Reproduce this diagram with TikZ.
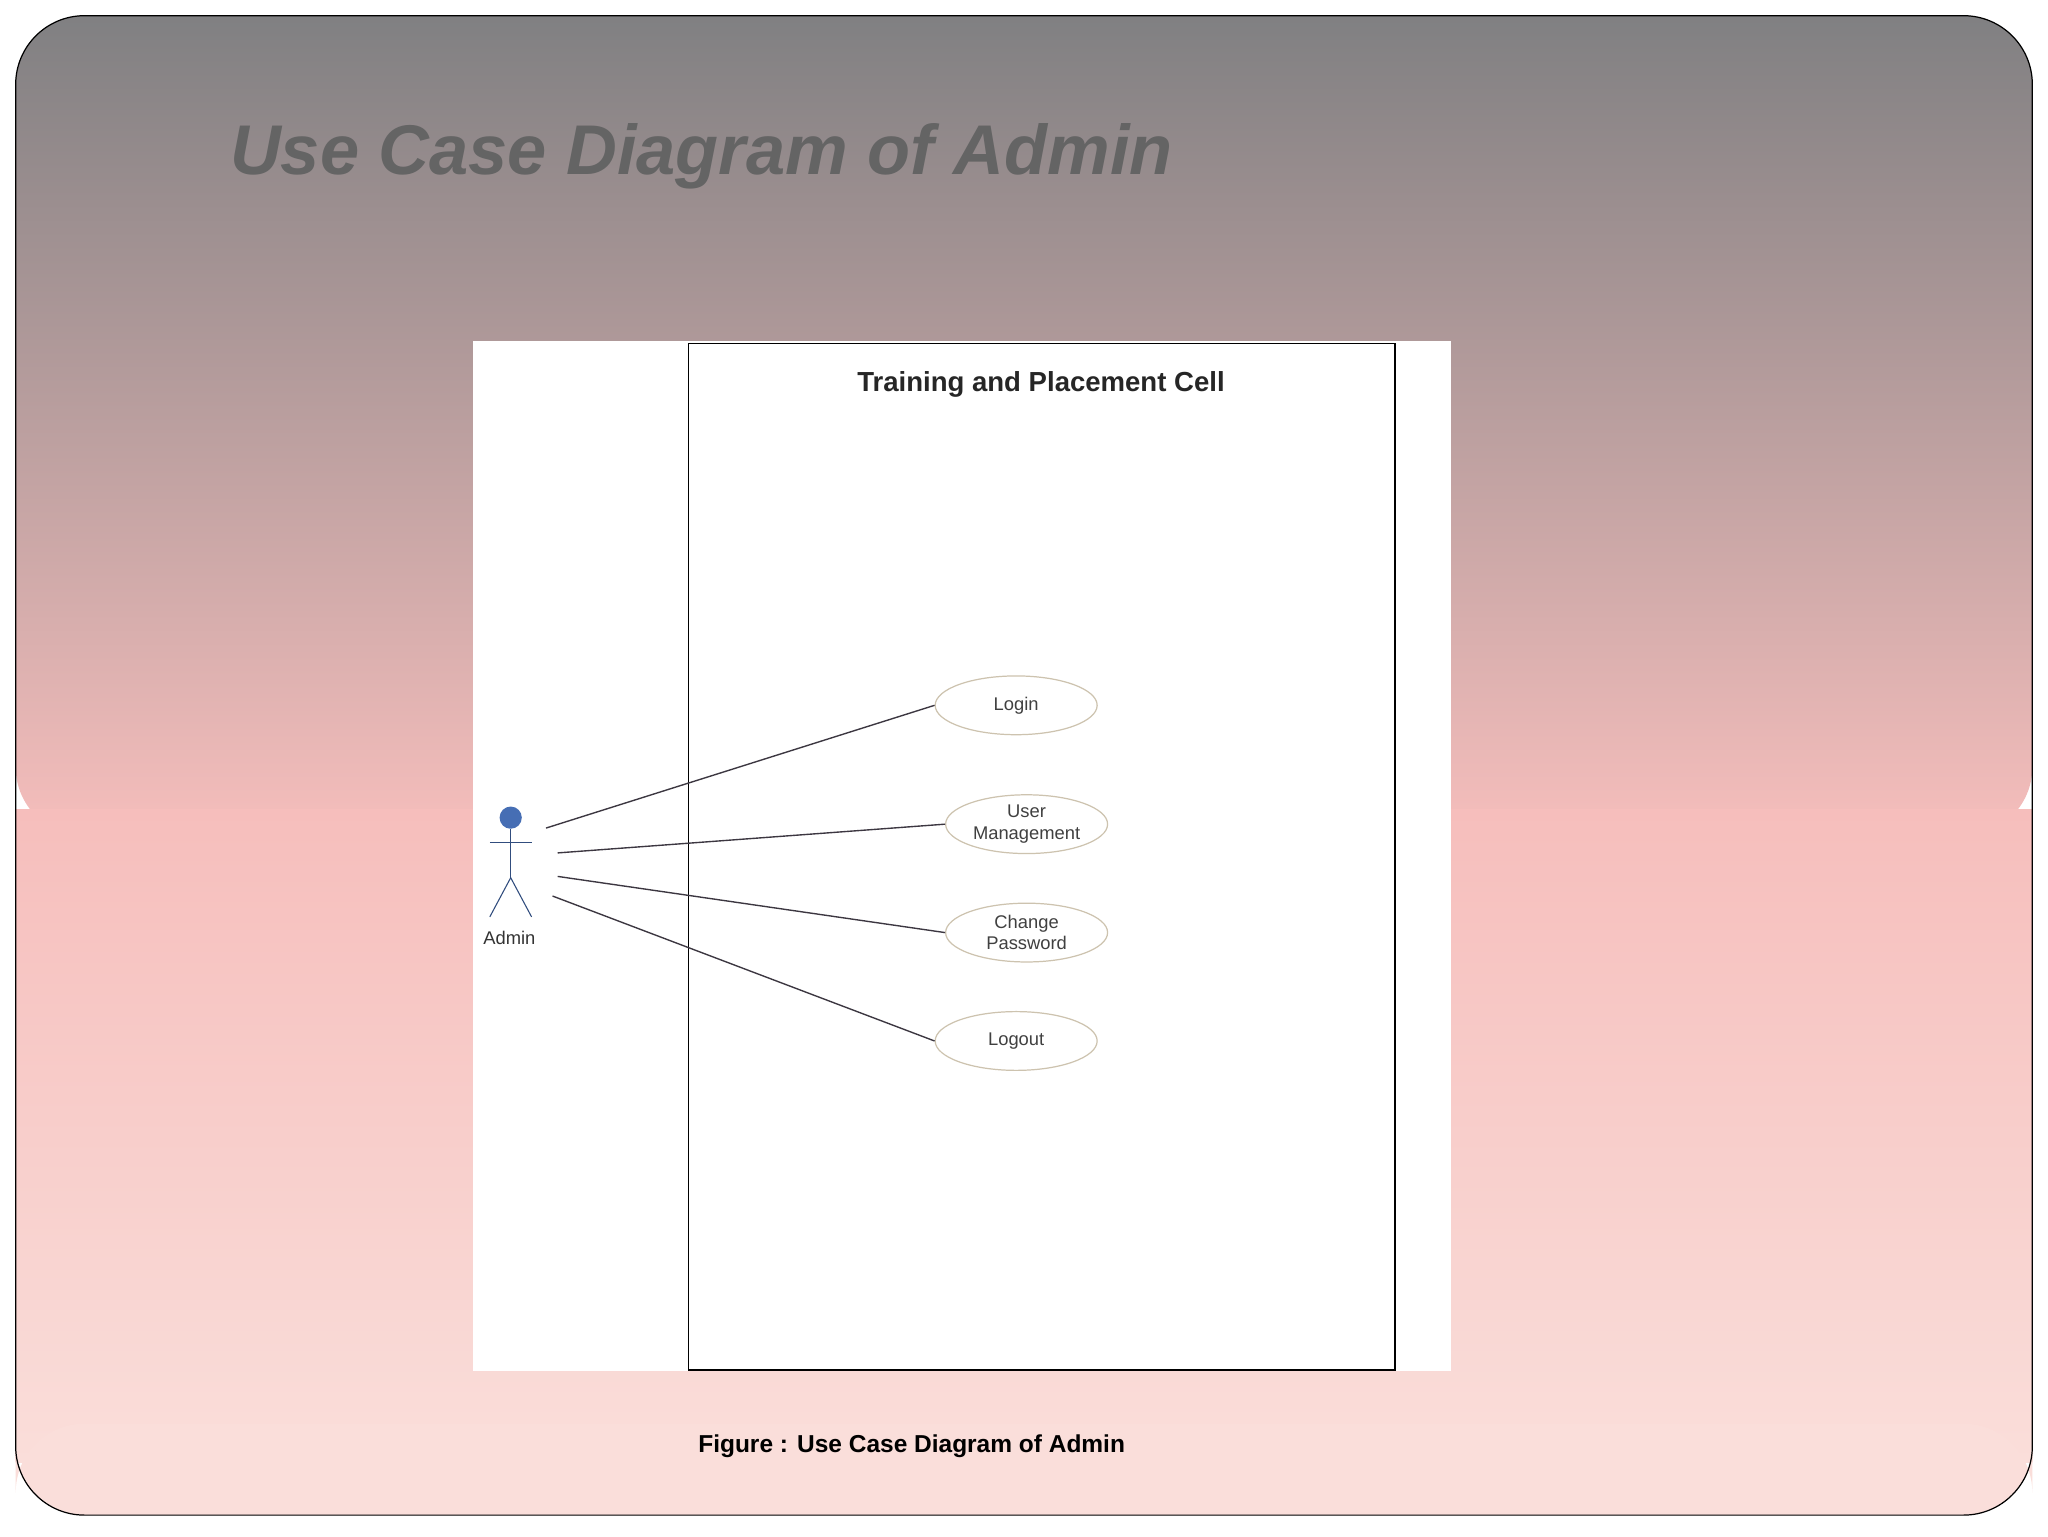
\documentclass[tikz,border=0pt]{standalone}
\usepackage{fontspec}
\setmainfont{Liberation Sans}
\usetikzlibrary{shapes.geometric}
\definecolor{bgtop}{RGB}{128,128,130}
\definecolor{bgmid}{RGB}{246,190,188}
\definecolor{bgbot}{RGB}{250,222,218}
\definecolor{titlegray}{RGB}{100,100,100}
\definecolor{ellb}{RGB}{205,195,175}
\definecolor{lineg}{RGB}{60,55,65}
\definecolor{actorblue}{RGB}{70,110,180}
\tikzset{
  uc/.style={ellipse, draw=ellb, fill=white, line width=0.8pt, minimum width=3.72cm, minimum height=1.35cm, align=center, font=\fontsize{12}{14}\selectfont, text=black!75, inner sep=0pt},
  assoc/.style={draw=lineg, line width=0.9pt},
  actorline/.style={draw=actorblue!70!black, line width=0.7pt}
}
\begin{document}
\begin{tikzpicture}[x=0.03cm,y=-0.03cm]
\useasboundingbox (0,0) rectangle (1568,1176);
\fill[white] (0,0) rectangle (1568,1176);
\shade[top color=bgtop, bottom color=bgmid, rounded corners=45pt] (12,12) rectangle (1556,640);
\shade[top color=bgmid, bottom color=bgbot] (12,620) rectangle (1556,1120);
\fill[bgbot, rounded corners=45pt] (12,1090) rectangle (1556,1160);
\draw[black, line width=0.8pt, rounded corners=45pt] (12,12) rectangle (1556,1160);
\node[font=\fontsize{46}{50}\selectfont\bfseries\itshape, text=titlegray, anchor=west] (title) at (172,120) {Use Case Diagram of Admin};
\fill[white] (362,261) rectangle (1111,1050);
\draw[black, line width=0.9pt] (527,263) rectangle (1068,1049);
\node[font=\fontsize{18}{20}\selectfont\bfseries, text=black!85] (sys) at (797,294) {Training and Placement Cell};
\node[uc] (login) at (778,540) {Login};
\node[uc] (user) at (786,631) {User\\Management};
\node[uc] (pwd) at (786,714) {Change\\Password};
\node[uc] (logout) at (778,797) {Logout};
% actor
\fill[actorblue] (391,626) circle (8.5);
\draw[actorline] (391,635) -- (391,672);
\draw[actorline] (375,645) -- (407,645);
\draw[actorline] (375,702) -- (391,672) -- (407,702);
\node[font=\fontsize{12}{14}\selectfont, text=black!80] (admin) at (390,718) {Admin};
\coordinate (a1) at (418,634);
\coordinate (a2) at (427,653);
\coordinate (a3) at (427,671);
\coordinate (a4) at (423,686);
\draw[assoc] (a1) -- (login.west);
\draw[assoc] (a2) -- (user.west);
\draw[assoc] (a3) -- (pwd.west);
\draw[assoc] (a4) -- (logout.west);
\node[font=\fontsize{16}{18}\selectfont\bfseries] (cap) at (698,1107) {Figure : Use Case Diagram of Admin};
\end{tikzpicture}
\end{document}
